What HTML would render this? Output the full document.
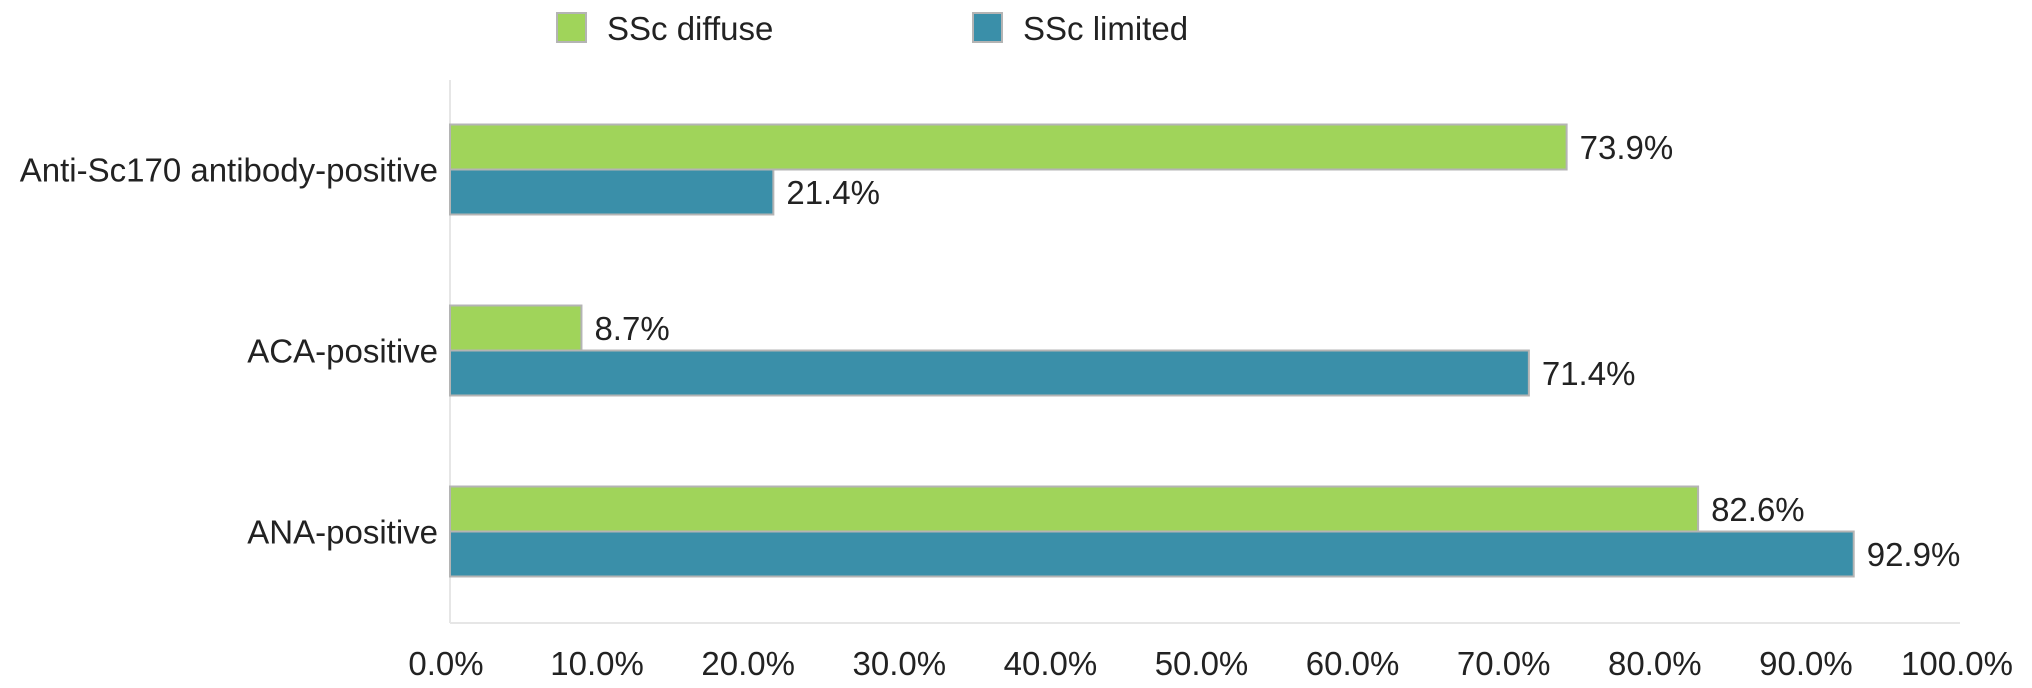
<!DOCTYPE html>
<html><head><meta charset="utf-8"><style>
body{margin:0;background:#fff;}
svg{display:block;font-family:"Liberation Sans",Arial,sans-serif;}
</style></head><body>
<svg id="chart" width="2032" height="688">
<g>
<rect x="557" y="13" width="29" height="29" fill="#a0d45a" stroke="#b4b4b4" stroke-width="2"/>
<text x="607" y="40" font-size="33" fill="#222">SSc diffuse</text>
<rect x="973" y="13" width="29" height="29" fill="#3a8fa9" stroke="#b4b4b4" stroke-width="2"/>
<text x="1023" y="40" font-size="33" fill="#222">SSc limited</text>
</g>
<line x1="450" y1="80" x2="450" y2="623" stroke="#e6e6e6" stroke-width="2"/>
<line x1="450" y1="623" x2="1960" y2="623" stroke="#e6e6e6" stroke-width="2"/>
<g id="bars"></g>
</svg>
<script>
const categories = ["Anti-Sc170 antibody-positive","ACA-positive","ANA-positive"];
const diffuse = [73.9, 8.7, 82.6];
const limited = [21.4, 71.4, 92.9];
const ticks = [0,10,20,30,40,50,60,70,80,90,100];
const X0=450, XW=1511, TOP=80, BAND=181, BH=45;
const xs = v => X0 + v/100*XW;
const bandCenter = i => TOP + BAND*i + BAND/2 - 1;
const NS="http://www.w3.org/2000/svg";
const svg=document.getElementById('chart');
const g=document.getElementById('bars');
function mk(tag, attrs){const e=document.createElementNS(NS,tag);for(const k in attrs)e.setAttribute(k,attrs[k]);return e;}
categories.forEach((c,i)=>{
  const cy=bandCenter(i);
  const t=mk('text',{x:438,y:cy+12,'font-size':33,'text-anchor':'end',fill:'#222'});
  t.textContent=c;
  
  
  svg.appendChild(t);
  [[diffuse,'#a0d45a',cy-BH,'diffuse'],[limited,'#3a8fa9',cy,'limited']].forEach(([arr,col,y,nm])=>{
    const v=arr[i];
    const r=mk('rect',{x:X0,y:y,width:xs(v)-X0,height:BH,fill:col,stroke:'#b4b4b4','stroke-width':2});
    
    
    g.appendChild(r);
    const l=mk('text',{x:xs(v)+13,y:y+BH/2+12,'font-size':33,fill:'#222'});
    l.textContent=v.toFixed(1)+'%';
    
    
    g.appendChild(l);
  });
});
ticks.forEach(t=>{
  const e=mk('text',{x:xs(t)-4,y:675,'font-size':33,'text-anchor':'middle',fill:'#222'});
  e.textContent=t.toFixed(1)+'%';
  
  
  svg.appendChild(e);
});
</script>
</body></html>
